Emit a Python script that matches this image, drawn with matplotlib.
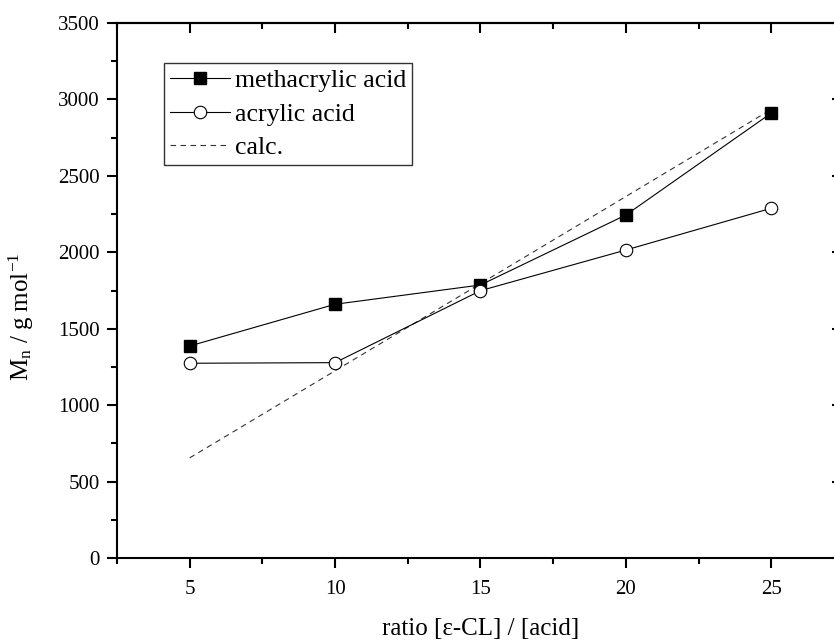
import matplotlib
matplotlib.use("Agg")
import matplotlib.pyplot as plt
from matplotlib.ticker import MultipleLocator

# data
ratio = [5, 10, 15, 20, 25]
mn_methacrylic = [1387, 1660, 1786, 2244, 2911]
mn_acrylic = [1274, 1278, 1749, 2015, 2288]
mn_calc = [655, 1225, 1795, 2365, 2935]

plt.rcParams['font.family'] = ['Liberation Serif', 'DejaVu Serif']
plt.rcParams['mathtext.default'] = 'regular'

fig = plt.figure(figsize=(8.34, 6.4), dpi=100)
ax = fig.add_axes([117 / 834, 82 / 640, 727 / 834, 535 / 640])

ax.plot(ratio, mn_methacrylic, '-', color='black', linewidth=0.8,
        marker='s', markersize=8, markerfacecolor='black', markeredgecolor='black',
        label='methacrylic acid', zorder=3)
ax.plot(ratio, mn_acrylic, '-', color='black', linewidth=0.8,
        marker='o', markersize=9, markerfacecolor='white', markeredgecolor='black',
        markeredgewidth=0.8, label='acrylic acid', zorder=3)
ax.plot(ratio, mn_calc, '--', color='#333333', linewidth=0.8, dashes=(5, 4),
        label='calc.', zorder=2)

ax.set_xlim(2.5, 27.5)
ax.set_ylim(0, 3500)
ax.xaxis.set_major_locator(MultipleLocator(5))
ax.xaxis.set_minor_locator(MultipleLocator(2.5))
ax.yaxis.set_major_locator(MultipleLocator(500))
ax.yaxis.set_minor_locator(MultipleLocator(250))

for s in ax.spines.values():
    s.set_linewidth(1.5)

ax.tick_params(axis='both', which='major', length=7.5, width=1.5, labelsize=15)
ax.tick_params(axis='both', which='minor', length=4.5, width=1.5)
ax.tick_params(axis='x', which='both', direction='out', pad=8)
ax.tick_params(axis='y', which='both', direction='out', pad=5)

# top and right ticks point inward
top = ax.secondary_xaxis('top')
top.set_xticks(ratio)
top.xaxis.set_minor_locator(MultipleLocator(2.5))
top.tick_params(which='major', direction='in', length=7.5, width=1.5, labeltop=False)
top.tick_params(which='minor', direction='in', length=4.5, width=1.5)
top.spines['top'].set_linewidth(1.5)
right = ax.secondary_yaxis('right')
right.yaxis.set_major_locator(MultipleLocator(500))
right.yaxis.set_minor_locator(MultipleLocator(250))
right.tick_params(which='major', direction='in', length=9, width=1.5, labelright=False)
right.tick_params(which='minor', direction='in', length=4.5, width=1.5)

ax.set_xlabel('ratio [ε-CL] / [acid]', fontsize=18, labelpad=14)
ax.set_ylabel('M$_n$ / g mol$^{-1}$', fontsize=18)
ax.yaxis.set_label_coords(-0.112, 0.452)

leg = ax.legend(loc='upper left', bbox_to_anchor=(164 / 834, 1 - 63 / 640),
                bbox_transform=fig.transFigure, fontsize=18.5, frameon=True,
                fancybox=False, borderpad=0.25, borderaxespad=0,
                handlelength=2.3, handletextpad=0.2, labelspacing=0.4)
leg.get_frame().set_edgecolor('black')
leg.get_frame().set_linewidth(1.0)

fig.savefig('out.png', dpi=100)
